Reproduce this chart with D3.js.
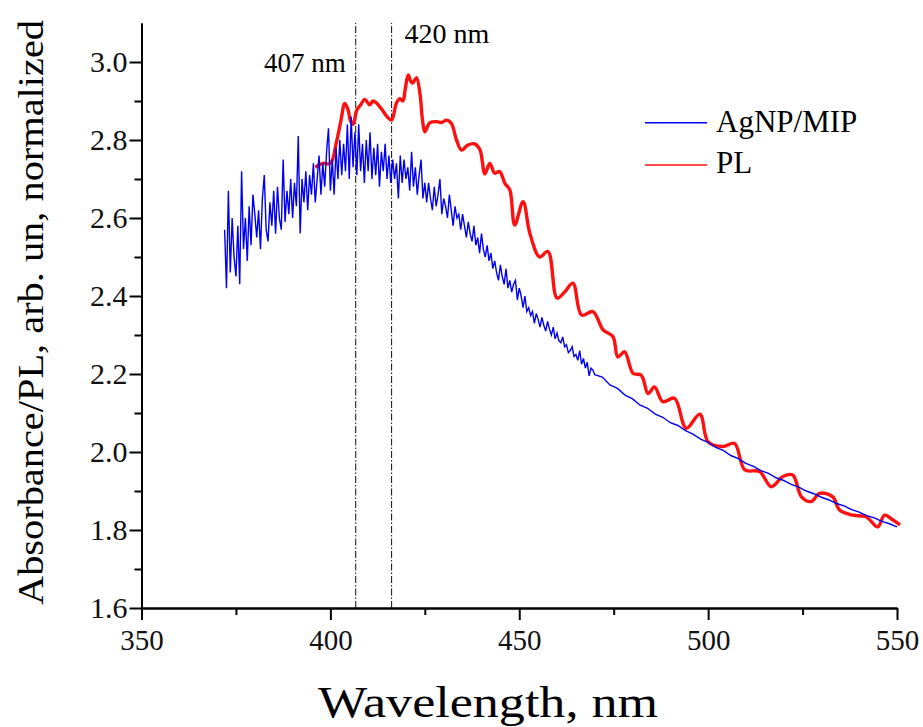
<!DOCTYPE html>
<html>
<head>
<meta charset="utf-8">
<script src="https://cdn.jsdelivr.net/npm/d3@7"></script>
<style>
  body { margin: 0; background: #fff; }
  svg { display: block; font-family: "Liberation Serif", "Times New Roman", serif; }
</style>
</head>
<body>
<div class="graph"></div>
<script>
//tick values and peak markers
const xTicks = [350, 400, 450, 500, 550];
const xMinor = [375, 425, 475, 525];
const yTicks = [1.6, 1.8, 2.0, 2.2, 2.4, 2.6, 2.8, 3.0];
const yMinor = [1.7, 1.9, 2.1, 2.3, 2.5, 2.7, 2.9];
const peakLines = [406.7, 416.2];
const peakLabels = ["407 nm", "420 nm"];
const seriesNames = ["AgNP/MIP", "PL"];

//absorbance, noisy part, one reading every 0.5 nm from 372 nm
const absStart = 372;
const absStep = 0.5;
const absNoisy = [
  2.57, 2.42, 2.67, 2.46, 2.60, 2.50, 2.45, 2.58, 2.43, 2.72, 2.52, 2.60, 2.49,
  2.63, 2.53, 2.66, 2.61, 2.55, 2.62, 2.52, 2.65, 2.71, 2.57, 2.54, 2.64, 2.58, 2.67, 2.56, 2.68, 2.60, 2.57,
  2.75, 2.59, 2.67, 2.61, 2.70, 2.60, 2.69, 2.63, 2.81, 2.56, 2.70, 2.64, 2.72, 2.62, 2.71, 2.66, 2.74, 2.64,
  2.70, 2.76, 2.66, 2.74, 2.68, 2.77, 2.83, 2.67, 2.75, 2.66, 2.78, 2.70, 2.80, 2.71, 2.79, 2.72,
  2.84, 2.70, 2.86, 2.73, 2.82, 2.71, 2.84, 2.72,
  2.79, 2.69, 2.80, 2.72, 2.82, 2.70, 2.78, 2.71, 2.79, 2.68, 2.77, 2.72, 2.79, 2.70, 2.76, 2.69,
  2.75, 2.70, 2.74, 2.65, 2.76, 2.69, 2.75, 2.70, 2.73, 2.67, 2.77, 2.68, 2.73, 2.66, 2.71, 2.75, 2.65, 2.69,
  2.64, 2.69, 2.65, 2.62, 2.68, 2.63, 2.66, 2.70, 2.61, 2.65, 2.63, 2.60, 2.66, 2.62, 2.58, 2.63, 2.60, 2.61,
  2.57, 2.61, 2.58, 2.55, 2.59, 2.56, 2.54, 2.58, 2.53, 2.55, 2.51, 2.56, 2.52, 2.50, 2.53, 2.49, 2.51, 2.47,
  2.49, 2.46, 2.44, 2.48, 2.45, 2.43, 2.47, 2.42, 2.44, 2.41, 2.43, 2.44, 2.39, 2.42, 2.40, 2.37, 2.40, 2.36,
  2.37, 2.35, 2.36, 2.33, 2.355, 2.34, 2.32, 2.345, 2.325, 2.31, 2.335, 2.315, 2.30, 2.32, 2.29, 2.305, 2.285, 2.28, 2.295, 2.27,
  2.275, 2.255, 2.26, 2.27, 2.245, 2.25, 2.235, 2.26, 2.225, 2.24, 2.215, 2.23, 2.195, 2.215, 2.21, 2.198
];
//absorbance, smooth tail, every 2 nm from 472 nm
const tailStart = 472;
const tailStep = 2;
const absTail = [
  2.192, 2.172, 2.163, 2.146, 2.136, 2.120, 2.112, 2.097, 2.089, 2.075,
  2.068, 2.055, 2.046, 2.033, 2.025, 2.012, 2.004, 1.991, 1.983, 1.971,
  1.963, 1.952, 1.945, 1.934, 1.927, 1.917, 1.910, 1.900, 1.893, 1.884,
  1.877, 1.868, 1.862, 1.852, 1.846, 1.837, 1.831, 1.822, 1.816, 1.808
];

//photoluminescence
const plWave = [
  396.0, 398.0, 400.0, 401.5, 402.8, 403.8, 404.6, 405.3, 406.0, 407.0,
  408.0, 409.1, 410.4, 411.3, 412.2, 413.5, 415.0, 416.2, 417.5, 418.4,
  419.2, 419.8, 420.6, 421.3, 421.8, 422.8, 423.7, 424.4, 425.0, 426.3,
  428.1, 429.5, 430.7, 432.0, 433.4, 434.7, 436.4, 438.2, 439.6, 440.9,
  442.2, 443.5, 444.8, 446.2, 447.5, 448.8, 451.0, 452.8, 455.4, 457.6,
  460.0, 462.0, 464.2, 466.5, 469.5, 472.2, 474.8, 476.1, 477.9, 480.1,
  482.3, 484.1, 485.8, 488.0, 491.1, 494.2, 497.8, 500.0, 503.9, 507.0,
  509.7, 513.6, 516.7, 519.8, 522.4, 524.7, 527.3, 529.5, 533.0, 534.8,
  538.3, 541.8, 544.9, 546.7, 548.9, 550.8
];
const plValue = [
  2.73, 2.74, 2.74, 2.79, 2.85, 2.894, 2.88, 2.85, 2.84, 2.877,
  2.89, 2.904, 2.89, 2.90, 2.895, 2.88, 2.86, 2.851, 2.895, 2.906,
  2.90, 2.93, 2.967, 2.95, 2.946, 2.96, 2.92, 2.85, 2.821, 2.844,
  2.847, 2.845, 2.851, 2.843, 2.80, 2.774, 2.787, 2.79, 2.775, 2.713,
  2.74, 2.715, 2.719, 2.689, 2.672, 2.582, 2.642, 2.561, 2.50, 2.514,
  2.395, 2.41, 2.433, 2.351, 2.36, 2.313, 2.296, 2.244, 2.257, 2.202,
  2.197, 2.15, 2.167, 2.129, 2.138, 2.061, 2.097, 2.026, 2.014, 2.022,
  1.954, 1.95, 1.911, 1.937, 1.941, 1.885, 1.873, 1.894, 1.885, 1.851,
  1.838, 1.834, 1.808, 1.838, 1.826, 1.813
];

//building point lists
const absData = absNoisy.map((v, i) => [absStart + i * absStep, v])
  .concat(absTail.map((v, i) => [tailStart + i * tailStep, v]));
const plData = plWave.map((w, i) => [w, plValue[i]]);

const width = 923;
const height = 727;
const blue = "#0000f0";
const red = "#ff1010";

const svg = d3.select(".graph")
  .append("svg")
  .attr("width", width)
  .attr("height", height);

//scales
const x = d3.scaleLinear().domain([350, 550]).range([141.5, 897]);
const y = d3.scaleLinear().domain([1.6, 3.1]).range([608, 23]);

//peak marker lines
svg.append("g")
  .selectAll("line")
  .data(peakLines)
  .join("line")
  .attr("x1", d => x(d))
  .attr("x2", d => x(d))
  .attr("y1", y(1.6))
  .attr("y2", y(3.1))
  .attr("stroke", "#222")
  .attr("stroke-width", 1.1)
  .attr("stroke-dasharray", "7,2,1.5,2");

svg.append("text")
  .attr("x", x(peakLines[0]) - 10)
  .attr("y", 72)
  .attr("text-anchor", "end")
  .attr("font-size", 27)
  .text(peakLabels[0]);
svg.append("text")
  .attr("x", x(peakLines[1]) + 13)
  .attr("y", 43)
  .attr("font-size", 28)
  .text(peakLabels[1]);

//curves, red under blue
const line = d3.line().x(d => x(d[0])).y(d => y(d[1]));
svg.append("path")
  .datum(plData)
  .attr("fill", "none")
  .attr("stroke", red)
  .attr("stroke-width", 3.4)
  .attr("stroke-linejoin", "round")
  .attr("d", line.curve(d3.curveCatmullRom.alpha(0.5)));
svg.append("path")
  .datum(absData)
  .attr("fill", "none")
  .attr("stroke", blue)
  .attr("stroke-width", 1.4)
  .attr("d", line.curve(d3.curveLinear));

//axes
const styleAxis = function(g, size) {
  g.select(".domain").attr("stroke-width", 2);
  g.selectAll(".tick line").attr("stroke-width", 2);
  g.selectAll("text")
    .attr("font-family", "Liberation Serif, Times New Roman, serif")
    .attr("font-size", size)
    .attr("fill", "#111");
};

svg.append("g")
  .attr("transform", `translate(0, ${y(1.6)})`)
  .call(d3.axisBottom(x).tickValues(xMinor).tickSize(7).tickSizeOuter(0).tickFormat(""))
  .call(g => styleAxis(g, 29));
svg.append("g")
  .attr("transform", `translate(0, ${y(1.6)})`)
  .call(d3.axisBottom(x).tickValues(xTicks).tickSize(12).tickSizeOuter(0).tickPadding(9).tickFormat(d3.format("d")))
  .call(g => styleAxis(g, 29));

svg.append("g")
  .attr("transform", `translate(${x(350)}, 0)`)
  .call(d3.axisLeft(y).tickValues(yMinor).tickSize(7).tickSizeOuter(0).tickFormat(""))
  .call(g => styleAxis(g, 30));
svg.append("g")
  .attr("transform", `translate(${x(350)}, 0)`)
  .call(d3.axisLeft(y).tickValues(yTicks).tickSize(12).tickSizeOuter(0).tickPadding(2).tickFormat(d3.format(".1f")))
  .call(g => styleAxis(g, 30));

//axis titles
svg.append("text")
  .attr("x", 318)
  .attr("y", 717)
  .attr("font-size", 44)
  .attr("textLength", 340)
  .attr("lengthAdjust", "spacingAndGlyphs")
  .text("Wavelength, nm");

svg.append("text")
  .attr("transform", "translate(43, 605) rotate(-90)")
  .attr("font-size", 36)
  .attr("textLength", 585)
  .attr("lengthAdjust", "spacingAndGlyphs")
  .text("Absorbance/PL, arb. un, normalized");

//legend
const legend = svg.append("g");
const legendRows = [[seriesNames[0], blue, 122.7, 131.7], [seriesNames[1], red, 165, 173.3]];
legendRows.forEach(r => {
  legend.append("line")
    .attr("x1", 645).attr("x2", 707)
    .attr("y1", r[2]).attr("y2", r[2])
    .attr("stroke", r[1])
    .attr("stroke-width", 1.6);
  legend.append("text")
    .attr("x", 716)
    .attr("y", r[3])
    .attr("font-size", 31)
    .text(r[0]);
});
</script>
</body>
</html>
